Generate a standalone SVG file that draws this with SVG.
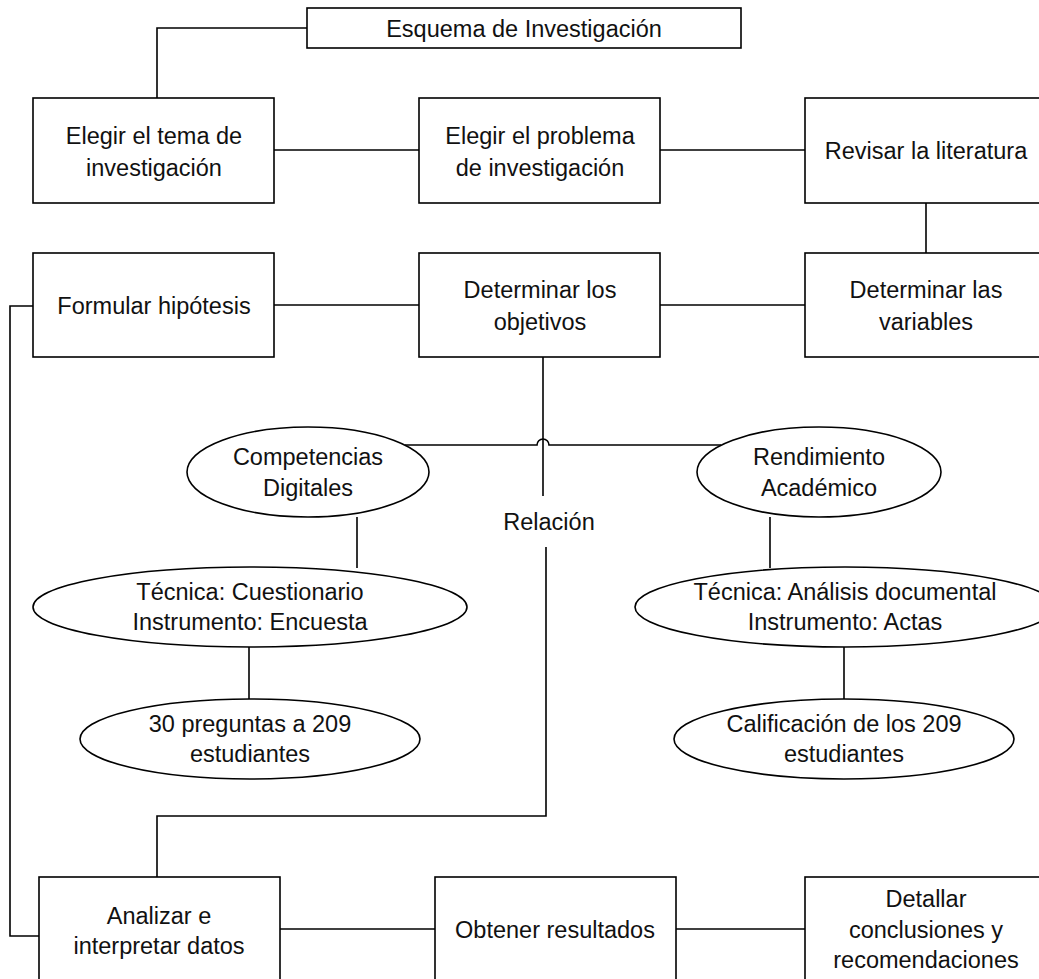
<svg xmlns="http://www.w3.org/2000/svg" width="1039" height="979" viewBox="0 0 1039 979">
<style>
.n{fill:#fff;stroke:#000;stroke-width:1.6}
.c{fill:none;stroke:#000;stroke-width:1.6}
text{font-family:"Liberation Sans",Arial,sans-serif;font-size:23.5px;fill:#111;text-anchor:middle}
</style>
<rect width="1039" height="979" fill="#fff"/>
<g id="connectors">
<path class="c" d="M307,28 H157 V98"/>
<path class="c" d="M274,150 H419"/>
<path class="c" d="M660,150 H805"/>
<path class="c" d="M926,203 V253"/>
<path class="c" d="M274,305 H419"/>
<path class="c" d="M660,305 H805"/>
<path class="c" d="M33,306 H10 V936 H39"/>
<path class="c" d="M543,357 V496"/>
<path class="c" d="M405,445 H537 A6,6 0 0 1 549,445 H721"/>
<path class="c" d="M546,547 V816 H157 V877"/>
<path class="c" d="M357,517 V568"/>
<path class="c" d="M249,647 V700"/>
<path class="c" d="M770,517 V568"/>
<path class="c" d="M844,647 V700"/>
<path class="c" d="M280,929 H435"/>
<path class="c" d="M676,929 H805"/>
</g>
<g id="title"><rect class="n" x="307" y="8" width="434" height="40"/><text x="524" y="37">Esquema de Investigación</text></g>
<g id="tema"><rect class="n" x="33" y="98" width="241" height="105"/><text x="154" y="144">Elegir el tema de</text><text x="154" y="176">investigación</text></g>
<g id="problema"><rect class="n" x="419" y="98" width="241" height="105"/><text x="540" y="144">Elegir el problema</text><text x="540" y="176">de investigación</text></g>
<g id="literatura"><rect class="n" x="805" y="98" width="242" height="105"/><text x="926" y="159">Revisar la literatura</text></g>
<g id="hipotesis"><rect class="n" x="33" y="253" width="241" height="104"/><text x="154" y="314">Formular hipótesis</text></g>
<g id="objetivos"><rect class="n" x="419" y="253" width="241" height="104"/><text x="540" y="298">Determinar los</text><text x="540" y="330">objetivos</text></g>
<g id="variables"><rect class="n" x="805" y="253" width="242" height="104"/><text x="926" y="298">Determinar las</text><text x="926" y="330">variables</text></g>
<g id="competencias"><ellipse class="n" cx="308" cy="472" rx="121" ry="45"/><text x="308" y="465">Competencias</text><text x="308" y="496">Digitales</text></g>
<g id="rendimiento"><ellipse class="n" cx="819" cy="472" rx="122" ry="45"/><text x="819" y="465">Rendimiento</text><text x="819" y="496">Académico</text></g>
<g id="relacion"><text x="549" y="530">Relación</text></g>
<g id="tecnica1"><ellipse class="n" cx="250" cy="607" rx="217" ry="40"/><text x="250" y="600">Técnica: Cuestionario</text><text x="250" y="630">Instrumento: Encuesta</text></g>
<g id="tecnica2"><ellipse class="n" cx="845" cy="607" rx="210" ry="40"/><text x="845" y="600">Técnica: Análisis documental</text><text x="845" y="630">Instrumento: Actas</text></g>
<g id="preguntas"><ellipse class="n" cx="250" cy="739" rx="170" ry="40"/><text x="250" y="732">30 preguntas a 209</text><text x="250" y="762">estudiantes</text></g>
<g id="calificacion"><ellipse class="n" cx="844" cy="739" rx="170" ry="40"/><text x="844" y="732">Calificación de los 209</text><text x="844" y="762">estudiantes</text></g>
<g id="analizar"><rect class="n" x="39" y="877" width="241" height="110"/><text x="159" y="924">Analizar e</text><text x="159" y="954">interpretar datos</text></g>
<g id="resultados"><rect class="n" x="435" y="877" width="241" height="110"/><text x="555" y="938">Obtener resultados</text></g>
<g id="conclusiones"><rect class="n" x="805" y="877" width="242" height="110"/><text x="926" y="907">Detallar</text><text x="926" y="938">conclusiones y</text><text x="926" y="968">recomendaciones</text></g>
</svg>
